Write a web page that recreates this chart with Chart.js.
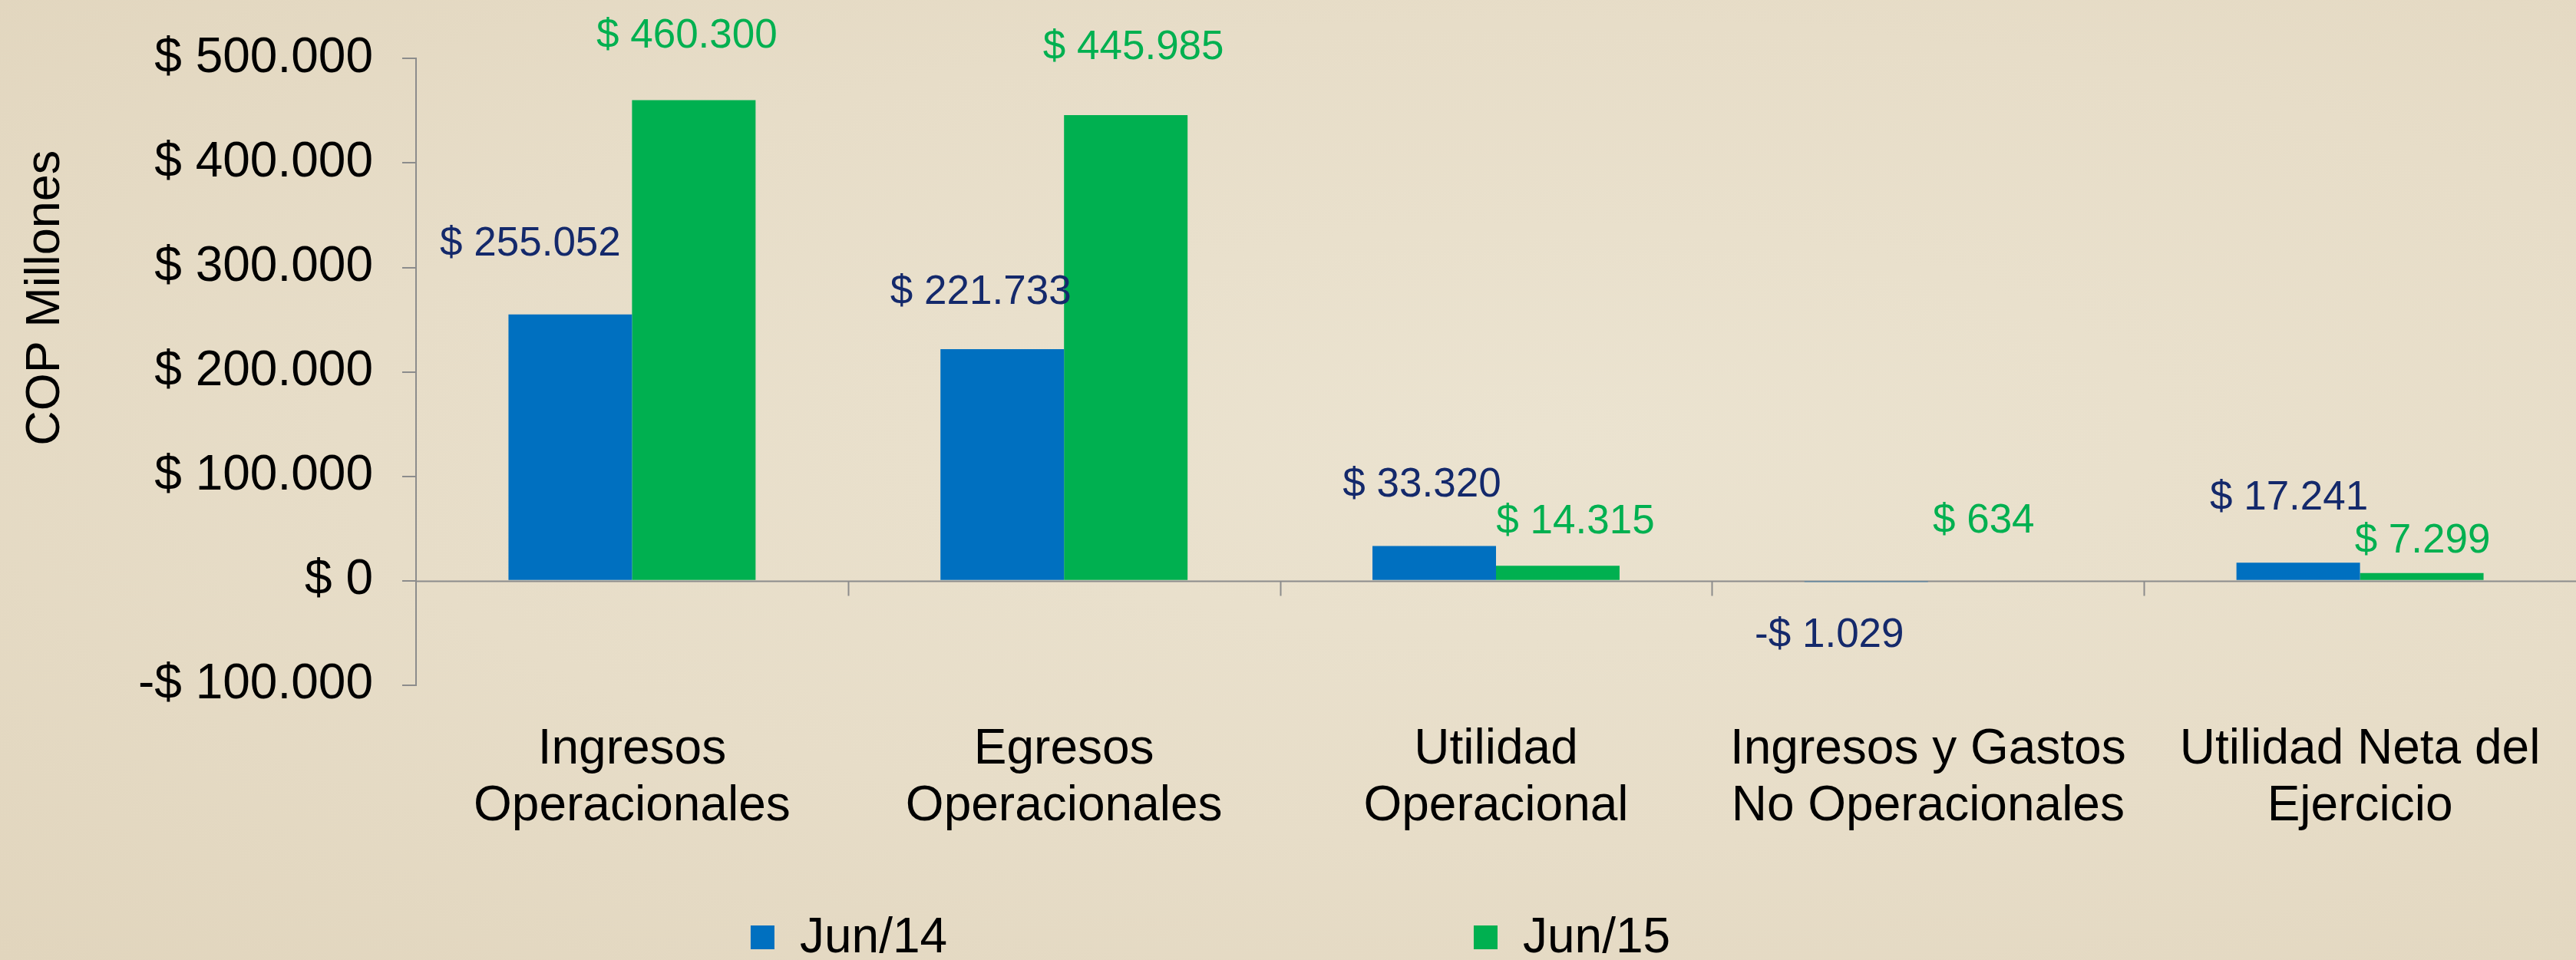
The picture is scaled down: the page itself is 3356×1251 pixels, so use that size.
<!DOCTYPE html>
<html>
<head>
<meta charset="utf-8">
<script src="https://cdn.jsdelivr.net/npm/chart.js@4.4.1/dist/chart.umd.min.js"></script>
<style>
  html, body { margin: 0; padding: 0; }
  body {
    width: 3356px; height: 1251px; overflow: hidden;
    background: radial-gradient(ellipse at 60% 45%, #ebe3d0 0%, #e7ddc8 55%, #e1d5bd 100%);
  }
  #wrap { width: 3356px; height: 1251px; }
</style>
</head>
<body>
<div id="wrap"><canvas id="chart" width="3356" height="1251"></canvas></div>
<script>
(function() {
  'use strict';

  var categories = [
    ['Ingresos', 'Operacionales'],
    ['Egresos', 'Operacionales'],
    ['Utilidad', 'Operacional'],
    ['Ingresos y Gastos', 'No Operacionales'],
    ['Utilidad Neta del', 'Ejercicio']
  ];
  var seriesNames = ['Jun/14', 'Jun/15'];
  var jun14 = [255052, 221733, 33320, -1029, 17241];
  var jun15 = [460300, 445985, 14315, 634, 7299];
  var yTicks = [-100000, 0, 100000, 200000, 300000, 400000, 500000];
  var yTitle = 'COP Millones';

  var BLUE = '#0070c0';
  var GREEN = '#00b050';
  var NAVY = '#14296b';
  var AXIS = '#8c8c8c';
  var FONT = '"Liberation Sans", Arial, sans-serif';

  // label nudges [dx, dy] from the end of each bar (hand placed in the original)
  var nudge = [
    [[-52, -91], [-28, -74], [-16, -79], [-48, 70], [-12, -84]],
    [[-9, -83], [10, -88], [23, -57], [-8, -76], [1, -41]]
  ];
  var labelColors = [NAVY, GREEN];
  var legendSlots = [0.2914, 0.5721];

  function money(v) {
    var s = String(Math.abs(v)).replace(/\B(?=(\d{3})+(?!\d))/g, '.');
    return (v < 0 ? '-' : '') + '$ ' + s;
  }

  var axisExtras = {
    id: 'axisExtras',
    beforeDatasetsDraw: function(chart) {
      var ctx = chart.ctx, x = chart.scales.x, y = chart.scales.y;
      var y0 = Math.round(y.getPixelForValue(0)) + 0.5;
      ctx.save();
      ctx.strokeStyle = AXIS;
      ctx.lineWidth = 2;
      ctx.beginPath();
      ctx.moveTo(chart.chartArea.left, y0);
      ctx.lineTo(chart.chartArea.right, y0);
      for (var i = 1; i < categories.length; i++) {
        var bx = Math.round((x.getPixelForTick(i - 1) + x.getPixelForTick(i)) / 2) + 0.5;
        ctx.moveTo(bx, y0);
        ctx.lineTo(bx, y0 + 19);
      }
      ctx.stroke();
      ctx.restore();
    },
    afterDatasetsDraw: function(chart) {
      var ctx = chart.ctx;
      ctx.save();
      ctx.font = '53px ' + FONT;
      ctx.textAlign = 'center';
      ctx.textBaseline = 'middle';
      chart.data.datasets.forEach(function(ds, d) {
        chart.getDatasetMeta(d).data.forEach(function(bar, i) {
          ctx.fillStyle = labelColors[d];
          ctx.fillText(money(ds.data[i]), bar.x + nudge[d][i][0], bar.y + nudge[d][i][1]);
        });
      });
      ctx.restore();
    },
    afterDraw: function(chart) {
      var ctx = chart.ctx, area = chart.chartArea, y = chart.scales.y;
      ctx.save();
      // y axis title
      ctx.translate(y.left + 60, area.top + (area.bottom - area.top) * 0.382);
      ctx.rotate(-Math.PI / 2);
      ctx.font = '63px ' + FONT;
      ctx.fillStyle = '#000';
      ctx.textAlign = 'center';
      ctx.textBaseline = 'middle';
      ctx.fillText(yTitle, 0, 0);
      ctx.restore();

      // legend
      ctx.save();
      ctx.font = '64px ' + FONT;
      ctx.textBaseline = 'middle';
      ctx.textAlign = 'left';
      var ly = chart.height - 30;
      chart.data.datasets.forEach(function(ds, d) {
        var lx = chart.width * legendSlots[d];
        ctx.fillStyle = ds.backgroundColor;
        ctx.fillRect(lx, ly - 15, 31, 31);
        ctx.fillStyle = '#000';
        ctx.fillText(ds.label, lx + 64, ly + 2);
      });
      ctx.restore();
    }
  };

  new Chart(document.getElementById('chart'), {
    type: 'bar',
    data: {
      labels: categories,
      datasets: [{
        label: seriesNames[0],
        backgroundColor: BLUE,
        data: jun14
      }, {
        label: seriesNames[1],
        backgroundColor: GREEN,
        data: jun15
      }]
    },
    options: {
      responsive: false,
      animation: false,
      devicePixelRatio: 1,
      layout: { padding: { top: 69, bottom: 123, left: 0, right: 0 } },
      datasets: { bar: { barPercentage: 1, categoryPercentage: 0.572 } },
      plugins: {
        legend: { display: false },
        tooltip: { enabled: false }
      },
      scales: {
        x: {
          grid: { display: false },
          border: { display: false },
          ticks: {
            autoSkip: false,
            maxRotation: 0,
            padding: 40,
            color: '#000',
            font: { family: FONT, size: 64, lineHeight: 1.15 }
          }
        },
        y: {
          min: yTicks[0],
          max: yTicks[yTicks.length - 1],
          afterBuildTicks: function(scale) {
            scale.ticks = yTicks.map(function(v) { return { value: v }; });
          },
          afterFit: function(scale) { scale.width = 542; },
          grid: {
            drawOnChartArea: false,
            drawTicks: true,
            tickLength: 18,
            color: AXIS,
            lineWidth: 2
          },
          border: { display: true, color: AXIS, width: 2 },
          ticks: {
            padding: 38,
            color: '#000',
            font: { family: FONT, size: 64 },
            callback: function(v) { return money(v); }
          }
        }
      }
    },
    plugins: [axisExtras]
  });
})();
</script>
</body>
</html>
